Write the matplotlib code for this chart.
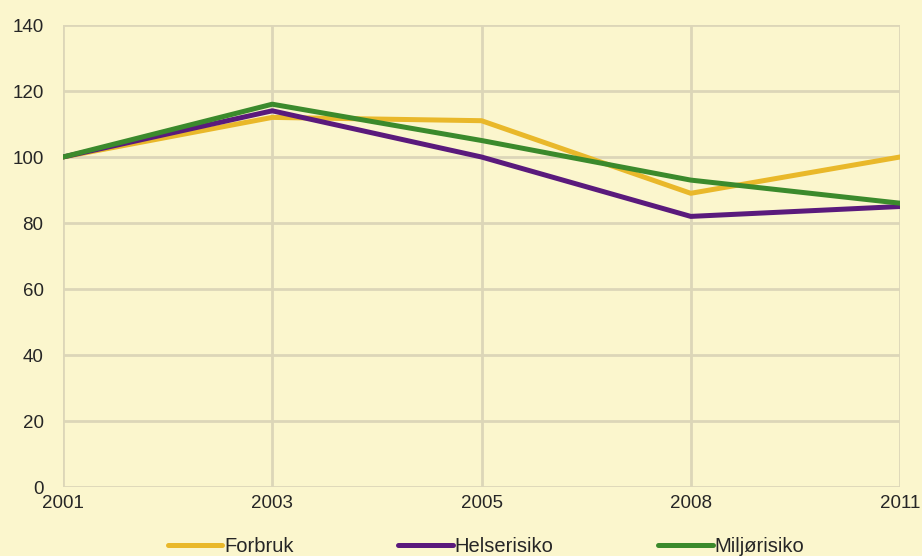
import matplotlib
matplotlib.use("Agg")
import matplotlib.pyplot as plt

# data
years = ["2001", "2003", "2005", "2008", "2011"]
forbruk = [100, 112, 111, 89, 100]
helserisiko = [100, 114, 100, 82, 85]
miljorisiko = [100, 116, 105, 93, 86]
yticks = [0, 20, 40, 60, 80, 100, 120, 140]

plt.rcParams["font.family"] = ["Liberation Sans", "DejaVu Sans"]

bg = "#fbf6cd"
grid_col = "#dcd6b8"

fig = plt.figure(figsize=(9.22, 5.56), dpi=100, facecolor=bg)
ax = fig.add_axes([63 / 922, 69 / 556, 837 / 922, 462 / 556], facecolor=bg)

x = range(len(years))
ax.plot(x, forbruk, color="#e9b82a", lw=3.6, label="Forbruk", solid_capstyle="round")
ax.plot(x, helserisiko, color="#5a1a7c", lw=3.6, label="Helserisiko", solid_capstyle="round")
ax.plot(x, miljorisiko, color="#3b8a2c", lw=3.6, label="Miljørisiko", solid_capstyle="round")

ax.set_xlim(0, len(years) - 1)
ax.set_ylim(0, 140)
ax.set_xticks(list(x))
ax.set_xticklabels(years)
ax.set_yticks(yticks)
ax.grid(True, color=grid_col, lw=2)
ax.set_axisbelow(True)
for s in ax.spines.values():
    s.set_visible(False)
ax.tick_params(length=0, labelsize=13.5, colors="#262626")
ax.tick_params(axis="y", pad=14)
ax.tick_params(axis="x", pad=6)

fig.legend(loc="center", ncol=3, frameon=False, fontsize=14.5,
           bbox_to_anchor=(486 / 922, 1 - 547 / 556), handlelength=2.7,
           handletextpad=0.1, columnspacing=5.2, labelcolor="#262626")

fig.savefig("out.png", dpi=100, facecolor=bg)
